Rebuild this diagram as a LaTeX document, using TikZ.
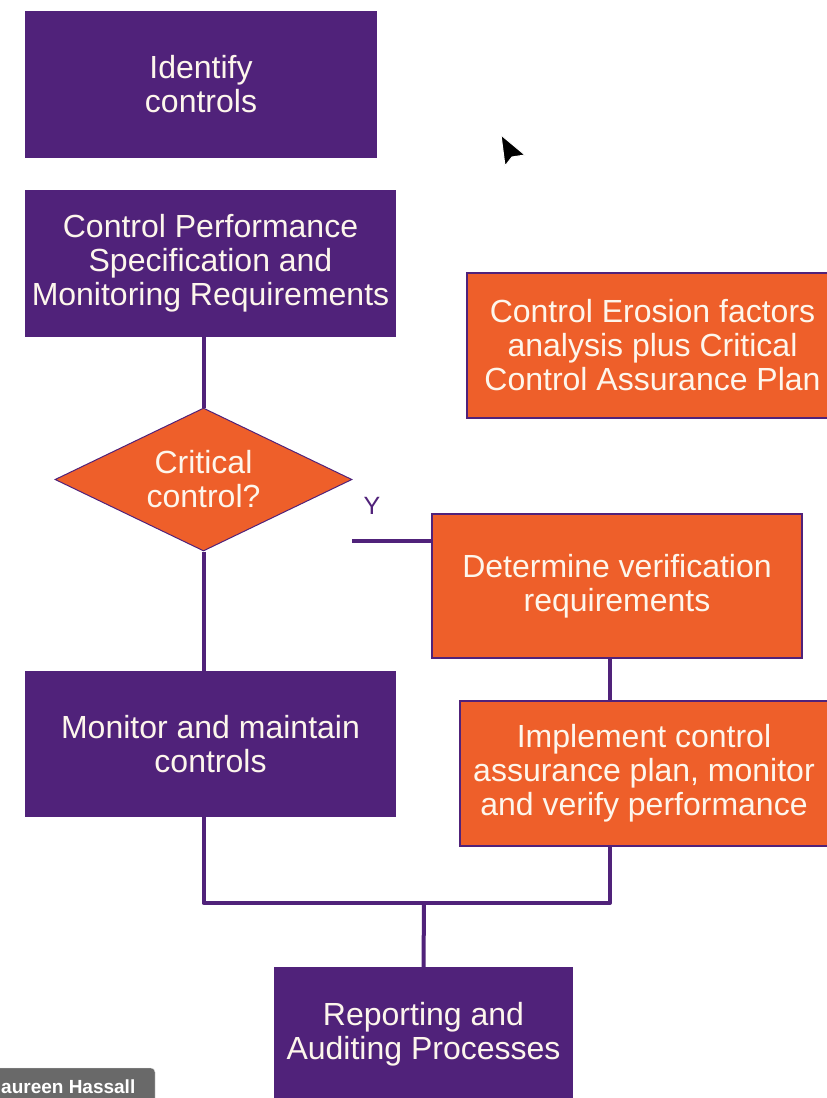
\documentclass[tikz,border=0pt]{standalone}
\usepackage{fontspec}
\setmainfont{Liberation Sans}
\usepackage{xcolor}
\usepackage{tikz}
\usetikzlibrary{shapes.geometric}

\definecolor{cpurple}{RGB}{80,34,122}
\definecolor{corange}{RGB}{238,95,42}
\definecolor{ctext}{RGB}{253,246,236}
\definecolor{ctag}{RGB}{105,105,105}

\begin{document}
\begin{tikzpicture}[x=1pt,y=-1pt,
  pbox/.style={rectangle, fill=cpurple, text=ctext, align=center, inner sep=0pt,
    font=\fontsize{32pt}{34pt}\selectfont},
  obox/.style={pbox, fill=corange, draw=cpurple, line width=2pt},
  decision/.style={diamond, fill=corange, draw=cpurple, line width=1pt, text=ctext,
    align=center, inner sep=0pt, aspect=2.08, font=\fontsize{32pt}{34pt}\selectfont},
  link/.style={draw=cpurple, line width=4pt}]

% Cadre de la page
\useasboundingbox (0,0) rectangle (827,1098);
\clip (0,0) rectangle (827,1098);

% Colonne de gauche
\node[pbox, minimum width=352pt, minimum height=147pt] (identify) at (201,84) {Identify\\controls};
\node[pbox, minimum width=371pt, minimum height=147pt] (ctrlperf) at (210.5,263) {Control Performance\\Specification and\\Monitoring Requirements};
\node[decision, minimum width=297pt, minimum height=143pt] (critical) at (203.5,479.5) {Critical\\control?};
\node[pbox, minimum width=371pt, minimum height=146pt] (monitor) at (210.5,744) {Monitor and maintain\\controls};

% Colonne de droite
\node[obox, minimum width=371pt, minimum height=145pt] (erosion) at (652.5,345) {Control Erosion factors\\analysis plus Critical\\Control Assurance Plan};
\node[obox, minimum width=370pt, minimum height=144pt] (determine) at (617,586) {Determine verification\\requirements};
\node[obox, minimum width=368pt, minimum height=145pt] (implement) at (644,773.5) {Implement control\\assurance plan, monitor\\and verify performance};

% En bas
\node[pbox, minimum width=299pt, minimum height=134pt] (reporting) at (423.5,1034) {Reporting and\\Auditing Processes};

% Liaisons
\coordinate (ybranch) at (352,541);
\coordinate (dsouth) at (610,657);
\coordinate (join) at (424,903);
\draw[link] (critical.north) -- (critical.north |- ctrlperf.south);
\draw[link] (critical.south) -- (critical.south |- monitor.north);
\draw[link, line width=3.5pt] (ybranch) -- (ybranch -| determine.west);
\node[text=cpurple, font=\fontsize{25pt}{26pt}\selectfont] (ylabel) at (372,506) {Y};
\draw[link] (dsouth) -- (dsouth |- implement.north);
\draw[link, line join=round] (critical.south |- monitor.south) -- (critical.south |- join)
  -- (dsouth |- join) -- (dsouth |- implement.south);
\draw[link] (join) -- (reporting.north);

% Curseur
\filldraw[fill=black, draw=white, line width=1pt] (501,135) -- (525,155) -- (512,157) -- (505,166) -- cycle;

% Etiquette en bas a gauche
\filldraw[fill=ctag, draw=white!80!ctag, rounded corners=4pt] (-10,1068) rectangle (155,1115);
\node[anchor=base west, inner sep=0pt, text=white, font=\bfseries\fontsize{19pt}{20pt}\selectfont] (tag) at (1,1093) {aureen Hassall};

\end{tikzpicture}
\end{document}
